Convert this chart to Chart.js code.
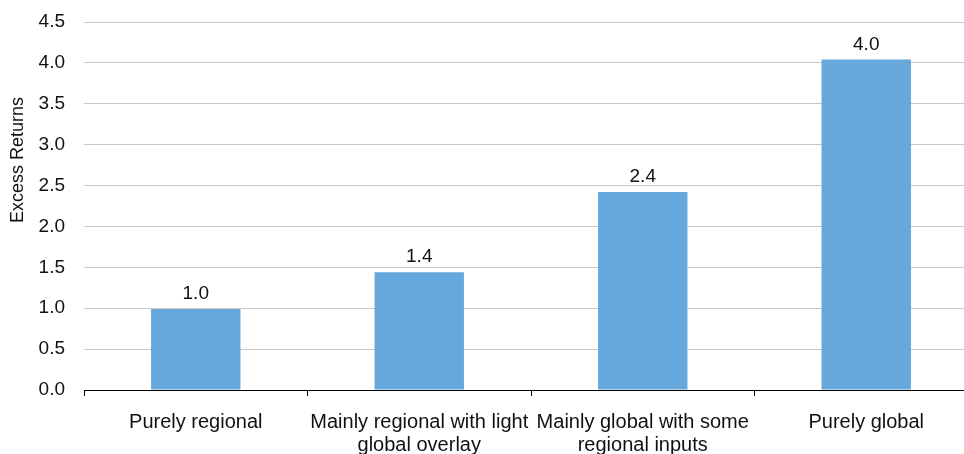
<!DOCTYPE html>
<html>
<head>
<meta charset="utf-8">
<script src="https://cdn.jsdelivr.net/npm/chart.js@4/dist/chart.umd.min.js"></script>
<style>
  html, body { margin: 0; padding: 0; background: #fff; overflow: hidden; }
  #wrap { width: 978px; height: 454px; }
</style>
</head>
<body>
<div id="wrap"><canvas id="returnsChart" width="978" height="454"></canvas></div>
<script>
// --- data ---
const categories = [
  'Purely regional',
  ['Mainly regional with light', 'global overlay'],
  ['Mainly global with some', 'regional inputs'],
  'Purely global'
];
const excessReturns = [0.99, 1.44, 2.42, 4.04];
const yTicks = [0, 0.5, 1, 1.5, 2, 2.5, 3, 3.5, 4, 4.5];
const yTitle = 'Excess Returns';

const FONT = '"Liberation Sans", Arial, sans-serif';
const TEXT = '#111';

// value labels above each bar
const barValues = {
  id: 'barValues',
  afterDatasetsDraw(chart) {
    const ctx = chart.ctx;
    const meta = chart.getDatasetMeta(0);
    ctx.save();
    ctx.font = '19px ' + FONT;
    ctx.fillStyle = TEXT;
    ctx.textAlign = 'center';
    ctx.textBaseline = 'alphabetic';
    meta.data.forEach((bar, i) => {
      ctx.fillText(excessReturns[i].toFixed(1), bar.x, bar.y - 10);
    });
    ctx.restore();
  }
};

// rotated axis title, sitting a bit above the middle like the old spreadsheet chart
const axisTitle = {
  id: 'axisTitle',
  afterDraw(chart) {
    const ctx = chart.ctx;
    const area = chart.chartArea;
    const cy = area.top + (area.bottom - area.top) * 0.375;
    ctx.save();
    ctx.translate(18, cy);
    ctx.rotate(-Math.PI / 2);
    ctx.font = '18px ' + FONT;
    ctx.fillStyle = TEXT;
    ctx.textAlign = 'center';
    ctx.textBaseline = 'middle';
    ctx.fillText(yTitle, 0, 0);
    ctx.restore();
  }
};

new Chart(document.getElementById('returnsChart'), {
  type: 'bar',
  data: {
    labels: categories,
    datasets: [{
      data: excessReturns,
      backgroundColor: '#66a8dc',
      borderWidth: 0,
      barPercentage: 0.4,
      categoryPercentage: 1.0
    }]
  },
  options: {
    responsive: false,
    animation: false,
    layout: { padding: { top: 22, right: 0, bottom: 0, left: 0 } },
    plugins: {
      legend: { display: false },
      tooltip: { enabled: false }
    },
    scales: {
      x: {
        offset: true,
        grid: {
          offset: true,
          drawOnChartArea: false,
          drawTicks: true,
          tickLength: 6,
          color: '#000'
        },
        border: { display: true, color: '#000', width: 1 },
        ticks: {
          autoSkip: false,
          maxRotation: 0,
          minRotation: 0,
          padding: 15,
          color: TEXT,
          font: { family: FONT, size: 20, lineHeight: 1.15 }
        },
        afterFit(scale) { scale.height = 64; }
      },
      y: {
        min: 0,
        max: 4.5,
        afterBuildTicks(scale) {
          scale.ticks = yTicks.map(v => ({ value: v }));
        },
        grid: { color: '#c8c8c8', drawTicks: false },
        border: { display: false },
        ticks: {
          padding: 19,
          color: TEXT,
          font: { family: FONT, size: 19 },
          callback: v => Number(v).toFixed(1)
        },
        afterFit(scale) {
          scale.width = 84;
          // top/bottom room is set by layout padding, not the label padding
          scale.paddingTop = 0;
          scale.paddingBottom = 0;
        }
      }
    }
  },
  plugins: [barValues, axisTitle]
});
</script>
</body>
</html>
